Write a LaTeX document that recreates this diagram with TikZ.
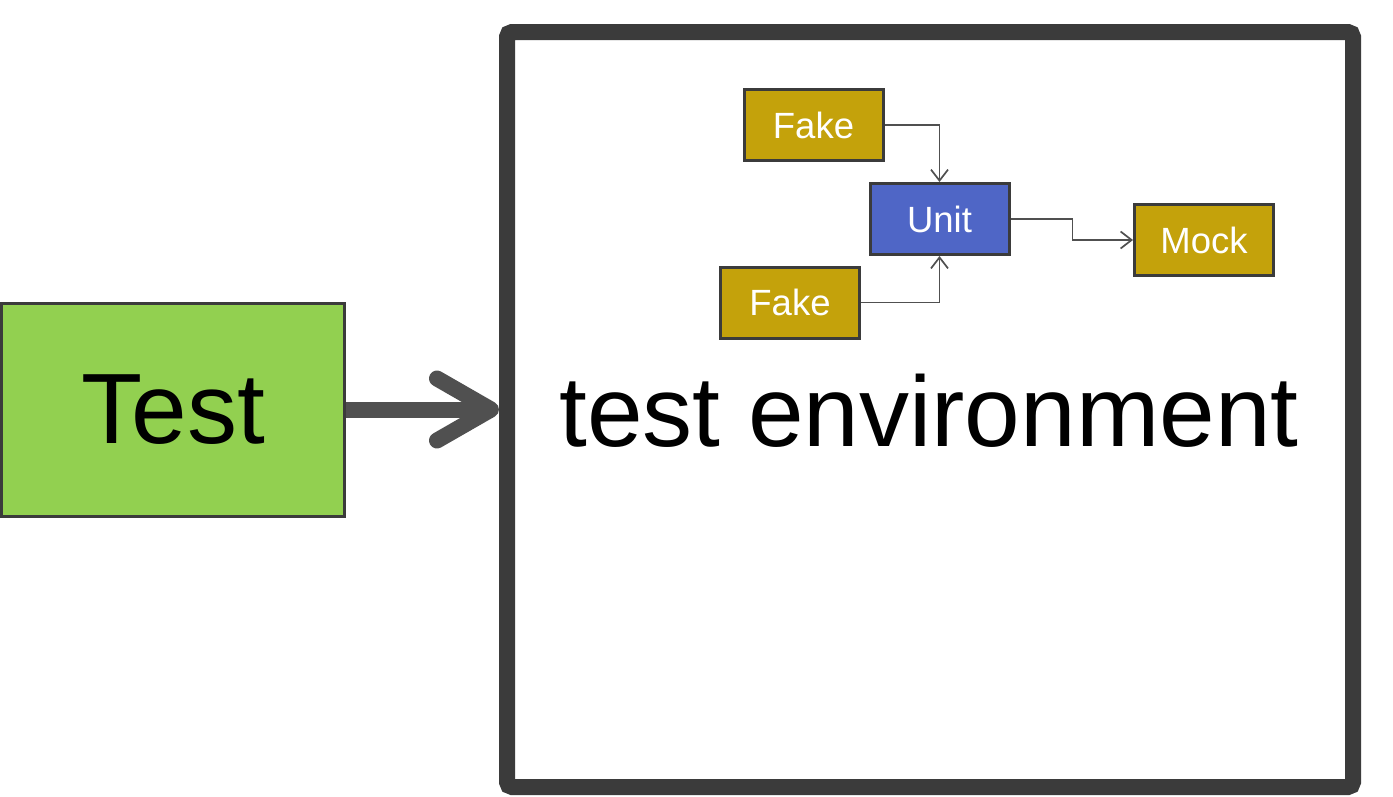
\documentclass[tikz,border=0pt]{standalone}
\usepackage{fontspec}
\setmainfont{Liberation Sans}
\usetikzlibrary{arrows.meta}
\definecolor{boxgreen}{HTML}{92D050}
\definecolor{boxgold}{HTML}{C4A20B}
\definecolor{boxblue}{HTML}{4F66C6}
\definecolor{edgedark}{HTML}{3B3B3B}
\definecolor{arrowgray}{HTML}{505050}
\tikzset{
  smallbox/.style={draw=edgedark, line width=3, fill=boxgold, text=white,
    minimum width=139, minimum height=71, inner sep=0,
    font=\fontsize{36.5}{40}\selectfont},
  thinconn/.style={draw=arrowgray, line width=1.7,
    -{Straight Barb[length=11,width=17,line width=1.7]}},
}
\begin{document}
\begin{tikzpicture}[x=1pt,y=-1pt]
\useasboundingbox (0,0) rectangle (1393,796);
% big environment box
\node[draw=edgedark, line width=16, rounded corners=5, fill=white,
  minimum width=846, minimum height=755, inner sep=0] (env) at (930,409.5) {};
\node[anchor=base, font=\fontsize{100}{110}\selectfont] (envlabel) at (929,446) {test environment};
% test box
\node[draw=edgedark, line width=3, fill=boxgreen, minimum width=343,
  minimum height=213, inner sep=0, font=\fontsize{100}{110}\selectfont] (test) at (173,409.5) {Test};
% main arrow
\coordinate (tip) at (env.west);
\draw[arrowgray, line width=16] (test.east) -- ([xshift=-6]tip);
\draw[arrowgray, line width=16, line cap=round, line join=round]
  ([xshift=-62,yshift=-31]tip) -- ([xshift=-8]tip) -- ([xshift=-62,yshift=31]tip);
% small nodes
\node[smallbox] (fake1) at (813.5,125) {Fake};
\node[smallbox, fill=boxblue] (unit) at (939.5,219) {Unit};
\node[smallbox] (fake2) at (790,302.5) {Fake};
\node[smallbox] (mock) at (1204,240) {Mock};
% connectors
\draw[thinconn] (fake1.east) -| (unit.north);
\draw[thinconn] (fake2.east) -| (unit.south);
\draw[thinconn] (unit.east) -- ++(62,0) |- (mock.west);
\end{tikzpicture}
\end{document}
